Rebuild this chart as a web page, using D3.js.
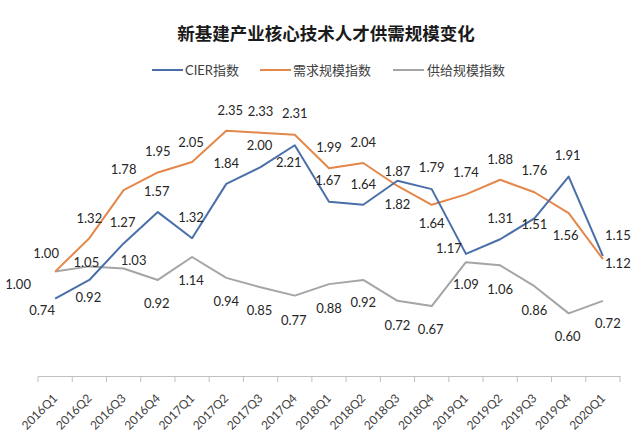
<!DOCTYPE html>
<html><head><meta charset="utf-8">
<script src="https://cdn.jsdelivr.net/npm/d3@7"></script>
<style>
html,body{margin:0;padding:0;background:#fff;}
svg{display:block;}
</style></head>
<body>
<svg id="chart" width="640" height="439"></svg>
<script>
const categories = ["2016Q1","2016Q2","2016Q3","2016Q4","2017Q1","2017Q2","2017Q3","2017Q4","2018Q1","2018Q2","2018Q3","2018Q4","2019Q1","2019Q2","2019Q3","2019Q4","2020Q1"];
const cierValues   = [0.74,0.92,1.27,1.57,1.32,1.84,2.00,2.21,1.67,1.64,1.87,1.79,1.17,1.31,1.51,1.91,1.15];
const demandValues = [1.00,1.32,1.78,1.95,2.05,2.35,2.33,2.31,1.99,2.04,1.82,1.64,1.74,1.88,1.76,1.56,1.12];
const supplyValues = [1.00,1.05,1.03,0.92,1.14,0.94,0.85,0.77,0.88,0.92,0.72,0.67,1.09,1.06,0.86,0.60,0.72];
const seriesNames = ["CIER指数","需求规模指数","供给规模指数"];
const titleText = "新基建产业核心技术人才供需规模变化";

// label offsets (dx, dy) relative to each point
const cierLabelOffsets = [[-13,11],[-1,17],[-1,-21],[-1,-21],[-1,-21],[0,-21],[-1,-22],[-6,17],[-1,-22],[0,-21],[0,-10],[0,-22],[-17,-6],[0,-21],[0,6],[-1,-22],[15,-21]];
const demandLabelOffsets = [[-9,-19],[0,-20],[0,-21],[0,-21],[-1,-20],[4,-21],[0,-22],[0,-22],[0,-21],[0,-21],[0,18],[0,18],[0,-22],[0,-21],[0,-22],[-3,22],[15,4]];
const supplyLabelOffsets = [[-37,12],[-3,-4],[10,-8],[-1,23],[-1,23],[0,23],[-1,23],[-1,24],[0,24],[0,22],[0,24],[-1,23],[0,22],[0,24],[0,24],[-1,23],[5,22]];

const colors = ["#4a6fa8","#e4874a","#a5a5a5"];

const series = [
  {name: seriesNames[0], values: cierValues, offsets: cierLabelOffsets, color: colors[0]},
  {name: seriesNames[1], values: demandValues, offsets: demandLabelOffsets, color: colors[1]},
  {name: seriesNames[2], values: supplyValues, offsets: supplyLabelOffsets, color: colors[2]}
];

const svg = d3.select("#chart");
const labelFont = "Lato, 'Noto Sans CJK SC', sans-serif";

const x = d3.scaleBand().domain(categories).range([38, 620]);
const y = d3.scaleLinear().domain([0, 2.5]).range([376, 115]);
const cx = c => x(c) + x.bandwidth()/2;

// title
svg.append("text")
  .attr("x", 326).attr("y", 32)
  .attr("text-anchor","middle").attr("dominant-baseline","central")
  .attr("font-family","'Noto Sans CJK SC', sans-serif")
  .attr("font-weight","bold").attr("font-size",17.5)
  .attr("fill","#1a1a1a")
  .text(titleText);

// legend
const legendItems = [
  {x1: 152, tx: 185},
  {x1: 260, tx: 293},
  {x1: 393, tx: 427}
];
series.forEach((s, i) => {
  const g = svg.append("g");
  g.append("line")
    .attr("x1", legendItems[i].x1).attr("x2", legendItems[i].x1 + 31)
    .attr("y1", 70).attr("y2", 70)
    .attr("stroke", s.color).attr("stroke-width", 2);
  g.append("text")
    .attr("x", legendItems[i].tx).attr("y", 70)
    .attr("dominant-baseline","central")
    .attr("font-family", labelFont).attr("font-size", 13)
    .attr("fill","#404040")
    .text(s.name);
});

// x axis
const axis = d3.axisBottom(x).tickSize(0).tickFormat("");
const axG = svg.append("g").attr("transform","translate(0,376)").call(axis);
axG.select(".domain").attr("stroke","#bfbfbf").attr("stroke-width",1);
// tick marks at category boundaries
const bounds = categories.map(c => x(c)).concat([x(categories[categories.length-1]) + x.bandwidth()]);
svg.append("g").selectAll("line").data(bounds).join("line")
  .attr("x1", d => d).attr("x2", d => d)
  .attr("y1", 376).attr("y2", 382)
  .attr("stroke","#bfbfbf").attr("stroke-width",1);

svg.append("g").selectAll("text").data(categories).join("text")
  .attr("transform", d => `translate(${cx(d)+3},399) rotate(-45)`)
  .attr("text-anchor","end")
  .attr("font-family", labelFont).attr("font-size", 12)
  .attr("fill","#404040")
  .text(d => d);

// lines
const line = d3.line().x((d, i) => cx(categories[i])).y(d => y(d));
// draw gray first, then orange, then blue on top
[2,1,0].forEach(k => {
  const s = series[k];
  svg.append("path")
    .datum(s.values)
    .attr("d", line)
    .attr("fill","none")
    .attr("stroke", s.color)
    .attr("stroke-width", 2)
    .attr("stroke-linejoin","round");
});

// data labels
series.forEach(s => {
  svg.append("g").selectAll("text").data(s.values).join("text")
    .attr("x", (d, i) => cx(categories[i]) + s.offsets[i][0])
    .attr("y", (d, i) => y(d) + s.offsets[i][1])
    .attr("text-anchor","middle").attr("dominant-baseline","central")
    .attr("font-family", labelFont).attr("font-size", 13)
    .attr("fill","#262626")
    .text(d => d.toFixed(2));
});
</script>
</body></html>
